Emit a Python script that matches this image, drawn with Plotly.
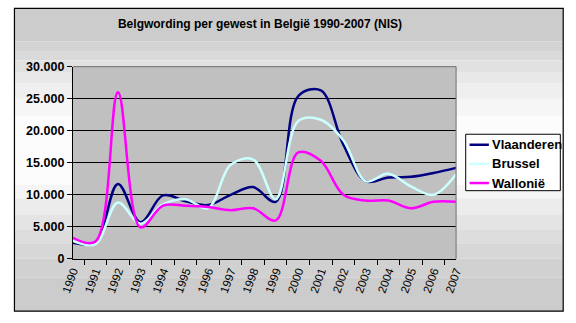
import plotly.graph_objects as go

# Yearly figures (number of naturalisations per region)
years = [str(y) for y in range(1990, 2008)]
vlaanderen = [2500, 2600, 11700, 5700, 9900, 9000, 8400, 10000, 11200, 8900,
              25400, 26300, 17800, 12100, 12700, 12800, 13400, 14200]
brussel = [2800, 2300, 8800, 5500, 8500, 9300, 7900, 14700, 15500, 9300,
           21500, 21700, 18500, 12100, 13300, 11300, 10000, 13200]
wallonie = [3300, 2700, 26000, 4900, 8300, 8300, 8100, 7600, 7900, 6000,
            16600, 15300, 10000, 9100, 9100, 7900, 8900, 8900]

series_names = ["Vlaanderen", "Brussel", "Wallonië"]
series_values = [vlaanderen, brussel, wallonie]
series_colors = ["#000080", "#ccffff", "#ff00ff"]

title_text = "Belgwording per gewest in België 1990-2007 (NIS)"

W, H = 576, 323
FONT = "Liberation Sans, Arial, sans-serif"


def px(x):
    return x / W


def py(y):
    return 1 - y / H


fig = go.Figure()
for name, vals, col in zip(series_names, series_values, series_colors):
    fig.add_trace(go.Scatter(
        x=years, y=vals, name=name, mode="lines",
        line=dict(color=col, width=2.5, shape="spline", smoothing=1),
        showlegend=False,
    ))

shapes = []
# chart area: vertical gradient drawn as bands
bands = [
    (1, 36, "#cccccc"), (36, 46, "#d3d3d3"), (46, 56, "#dadada"),
    (56, 68, "#e1e1e1"), (68, 80, "#e8e8e8"), (80, 96, "#efefef"),
    (96, 114, "#f6f6f6"), (114, 186, "#fcfcfc"), (186, 200, "#f5f5f5"),
    (200, 217, "#ececec"), (217, 233, "#e4e4e4"), (233, 247, "#dddddd"),
    (247, 263, "#d7d7d7"), (263, 283, "#d1d1d1"), (283, 318, "#cccccc"),
]
for y0, y1, c in bands:
    shapes.append(dict(type="rect", xref="paper", yref="paper", layer="below",
                       x0=px(1), x1=px(570), y0=py(y0), y1=py(y1),
                       fillcolor=c, line=dict(width=0)))
shapes.append(dict(type="rect", xref="paper", yref="paper", layer="below",
                   x0=px(1.5), x1=px(570), y0=py(1.5), y1=py(318),
                   fillcolor="rgba(0,0,0,0)", line=dict(color="black", width=1.2)))
# plot area
PL, PR, PT, PB = 62, 459, 62.3, 263.3
shapes.append(dict(type="rect", xref="paper", yref="paper", layer="below",
                   x0=px(PL), x1=px(PR), y0=py(PB), y1=py(PT),
                   fillcolor="#c0c0c0", line=dict(width=0)))
# grey top and right border of the plot area
shapes.append(dict(type="line", xref="paper", yref="paper", layer="above",
                   x0=px(PL), x1=px(PR), y0=py(PT), y1=py(PT),
                   line=dict(color="#808080", width=1.2)))
shapes.append(dict(type="line", xref="paper", yref="paper", layer="above",
                   x0=px(PR), x1=px(PR), y0=py(PT), y1=py(PB),
                   line=dict(color="#808080", width=1.2)))

# legend box
LX0, LX1, LY0, LY1 = 469, 567, 133, 192
shapes.append(dict(type="rect", xref="paper", yref="paper", layer="above",
                   x0=px(LX0), x1=px(LX1), y0=py(LY1), y1=py(LY0),
                   fillcolor="white", line=dict(color="black", width=1)))
annotations = []
for i, (name, col) in enumerate(zip(series_names, series_colors)):
    yy = 144 + i * 20
    shapes.append(dict(type="line", xref="paper", yref="paper", layer="above",
                       x0=px(473), x1=px(493), y0=py(yy), y1=py(yy),
                       line=dict(color=col, width=2.5)))
    annotations.append(dict(xref="paper", yref="paper", x=px(494), y=py(yy),
                            xanchor="left", yanchor="middle", showarrow=False,
                            text=name,
                            font=dict(family=FONT, size=13, color="black", weight="bold")))

fig.update_layout(
    width=W, height=H,
    margin=dict(l=0, r=0, t=0, b=0),
    paper_bgcolor="white",
    plot_bgcolor="#c0c0c0",
    separators=",.",
    showlegend=False,
    title=dict(text=title_text, x=px(260), xanchor="center",
               y=py(24), yanchor="middle",
               font=dict(family=FONT, size=12, color="black", weight="bold")),
    xaxis=dict(
        domain=[px(PL), px(PR)], type="category",
        tickson="boundaries", ticks="outside", ticklen=5, tickcolor="black",
        tickwidth=1, showline=True, linecolor="black", linewidth=1,
        showgrid=False, tickangle=-70,
        tickfont=dict(family=FONT, size=11.5, color="black"),
    ),
    yaxis=dict(
        domain=[py(PB), py(PT)], range=[0, 30000], dtick=5000,
        tickformat=",d", ticks="outside", ticklen=5, tickcolor="black",
        showline=True, linecolor="black", linewidth=1,
        showgrid=True, gridcolor="black", gridwidth=1, zeroline=False,
        tickfont=dict(family=FONT, size=12.5, color="black", weight="bold"),
    ),
    shapes=shapes,
    annotations=annotations,
)

fig.write_html("out.html")
